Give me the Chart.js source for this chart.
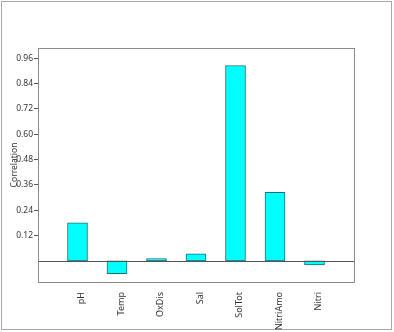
<!DOCTYPE html>
<html><head><meta charset="utf-8">
<script src="https://cdn.jsdelivr.net/npm/chart.js@4/dist/chart.umd.min.js"></script>
<style>html,body{margin:0;padding:0;background:#fff}canvas{display:block}</style>
</head><body>
<canvas id="c" width="394" height="332"></canvas>
<script>
const categories = ['pH','Temp','OxDis','Sal','SolTot','NitriAmo','Nitri'];
const correlation = [0.18,-0.06,0.011,0.033,0.925,0.325,-0.019];
const yTicks = [0.12,0.24,0.36,0.48,0.60,0.72,0.84,0.96];

const labels = [''].concat(categories, ['']);
const values = [null].concat(correlation, [null]);

const framePlugin = {
  id:'frame',
  beforeDraw(chart){
    const c = chart.ctx;
    c.save();
    c.fillStyle='#fff'; c.fillRect(0,0,chart.width,chart.height);
    c.strokeStyle='#a8a8a8'; c.lineWidth=1;
    c.strokeRect(1.5,1.5,390,328);
    c.restore();
  },
  afterDatasetsDraw(chart){
    const c = chart.ctx, a = chart.chartArea, y = chart.scales.y;
    c.save();
    c.lineWidth=1;
    c.strokeStyle='#555';
    const y0 = Math.round(y.getPixelForValue(0))+0.5;
    c.beginPath(); c.moveTo(a.left,y0); c.lineTo(a.right,y0); c.stroke();
    c.strokeStyle='#8a8a8a';
    c.strokeRect(Math.round(a.left)+0.5, Math.round(a.top)+0.5, Math.round(a.right-a.left), Math.round(a.bottom-a.top));
    c.restore();
  }
};

new Chart(document.getElementById('c'),{
  type:'bar',
  data:{labels, datasets:[{data:values, backgroundColor:'#00ffff', borderColor:'#1d6f70', borderWidth:1, barThickness:20, borderSkipped:false}]},
  options:{
    responsive:false, devicePixelRatio:1, animation:false,
    layout:{padding:{top:48,right:40,left:0,bottom:0}},
    plugins:{legend:{display:false}, tooltip:{enabled:false}},
    scales:{
      x:{
        offset:false,
        grid:{display:false},
        border:{display:false},
        ticks:{autoSkip:false, minRotation:90, maxRotation:90, labelOffset:4, color:'#333', font:{family:'Noto Sans', size:9}, padding:2},
        afterFit(s){ s.height = 50; }
      },
      y:{
        min:-0.1, max:1.008,
        border:{display:false},
        grid:{drawOnChartArea:false, drawTicks:true, tickLength:4, color:'#555'},
        afterBuildTicks(s){ s.ticks = yTicks.map(v=>({value:v})); },
        ticks:{color:'#333', font:{family:'Noto Sans', size:8.5}, padding:1, callback:v=>Number(v).toFixed(2)},
        title:{display:true, text:'Correlation', color:'#333', font:{family:'Noto Sans', size:8.5}, padding:{top:9,bottom:0}},
        afterFit(s){ s.width = 38; }
      }
    }
  },
  plugins:[framePlugin]
});
</script>
</body></html>
